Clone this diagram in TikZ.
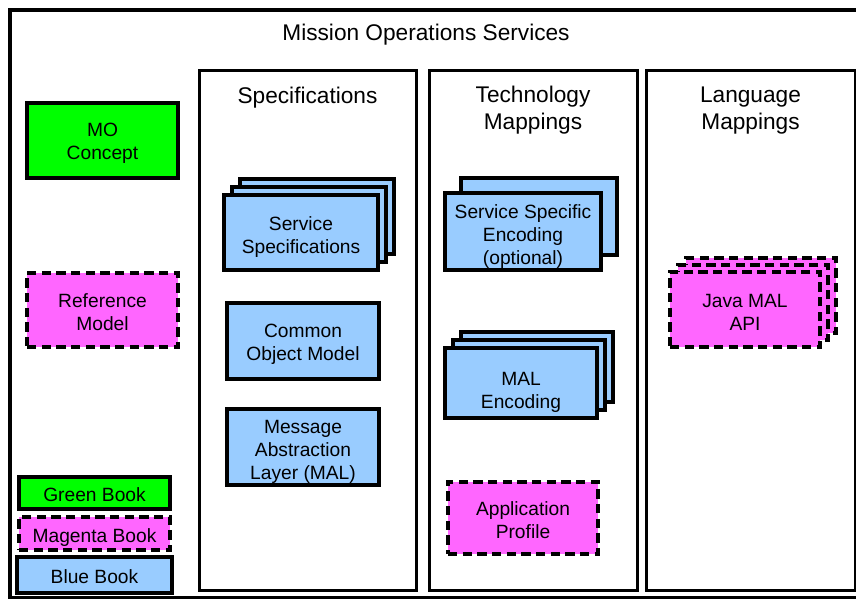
\documentclass[tikz,border=0pt]{standalone}
\usepackage{fontspec}
\setmainfont{Liberation Sans}
\usetikzlibrary{positioning}

\definecolor{greenfill}{HTML}{00FF00}
\definecolor{magentafill}{HTML}{FF66FF}
\definecolor{bluefill}{HTML}{99CCFF}

% centred lines of a book, set a little low in the box
\newcommand\btext[2][-3pt]{\raisebox{#1}[\height][\depth]{\begin{tabular}{@{}c@{}}#2\end{tabular}}}

\begin{document}
\begin{tikzpicture}[
  x=0.75pt, y=-0.75pt,
  wh/.style 2 args = {minimum width=#1*0.75pt, minimum height=#2*0.75pt},
  book/.style      = {draw, line width=3pt, inner sep=0pt,
                      font=\fontsize{14.4}{17.3}\selectfont},
  greenbook/.style   = {book, fill=greenfill},
  magentabook/.style = {book, fill=magentafill, dash pattern=on 7pt off 4pt},
  bluebook/.style    = {book, fill=bluefill},
  column/.style    = {draw, line width=2.25pt, inner sep=0pt},
  coltitle/.style  = {align=center, inner sep=0pt, font=\fontsize{17}{20.3}\selectfont}
]

  \useasboundingbox (0,0) rectangle (856,599);
  \clip (0,0) rectangle (856,599);

  % Outer frame
  \node[draw, line width=3.5pt, wh={856}{588}, inner sep=0pt] (mos) at (438,304) {};
  \node[coltitle] (mostitle) at (426,35) {Mission Operations Services};

  % Columns
  \node[column, wh={217}{519}] (spec) at (307.5,330.5) {};
  \node[column, wh={208}{519}] (tech) at (533,330.5) {};
  \node[column, wh={209}{519}] (lang) at (750.5,330.5) {};

  \node[coltitle, below=13pt of spec.north] (spectitle) {Specifications};
  \node[coltitle, below=12pt of tech.north] (techtitle) {Technology\\Mappings};
  \node[coltitle, below=12.5pt of lang.north] (langtitle) {Language\\Mappings};

  % Left side books
  \node[greenbook, wh={151}{75}] (moconcept) at (102.5,140.5) {\btext[-2.25pt]{MO\\Concept}};
  \node[magentabook, wh={151}{74}] (refmodel) at (102.5,310) {\btext{Reference\\Model}};

  % Legend
  \node[greenbook, wh={151}{32}] (greenkey) at (94.5,493) {\btext{Green Book}};
  \node[magentabook, wh={151}{33}] (magentakey) at (94.5,533.5) {\btext{Magenta Book}};
  \node[bluebook, wh={155}{36}] (bluekey) at (94.5,575) {\btext{Blue Book}};

  % Specifications
  \node[bluebook, wh={154}{75}] (svcspecC) at (317,216.5) {};
  \node[bluebook, wh={154}{75}] (svcspecB) at (309,224.5) {};
  \node[bluebook, wh={154}{75}] (svcspec) at (301,232.5) {\btext[-3.75pt]{Service\\Specifications}};
  \node[bluebook, wh={152}{76}] (com) at (303,341) {\btext[-2.25pt]{Common\\Object Model}};
  \node[bluebook, wh={152}{76}] (mal) at (303,447) {\btext[-3.75pt]{Message\\Abstraction\\Layer (MAL)}};

  % Technology mappings
  \node[bluebook, wh={156}{77}] (sseB) at (539,216.5) {};
  \node[bluebook, wh={156}{77}] (sse) at (523,231.5) {\btext[-3.75pt]{Service Specific\\Encoding\\(optional)}};
  \node[bluebook, wh={152}{70}] (malencC) at (537,367) {};
  \node[bluebook, wh={152}{70}] (malencB) at (529,375) {};
  \node[bluebook, wh={152}{70}] (malenc) at (521,383) {\btext[-6.75pt]{MAL\\Encoding}};
  \node[magentabook, wh={150}{72}] (appprofile) at (523,518) {\btext{Application\\Profile}};

  % Language mappings
  \node[magentabook, wh={150}{75}] (javaapiC) at (761,295.5) {};
  \node[magentabook, wh={150}{75}] (javaapiB) at (753,302.5) {};
  \node[magentabook, wh={150}{75}] (javaapi) at (745,309.5) {\btext[-3.75pt]{Java MAL\\API}};

\end{tikzpicture}
\end{document}
